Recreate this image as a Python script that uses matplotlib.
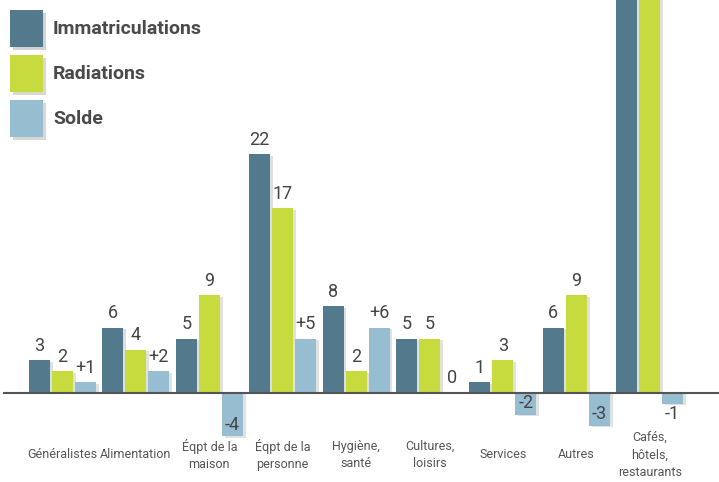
import numpy as np
import matplotlib.pyplot as plt
import matplotlib.patheffects as pe
from matplotlib.patches import Rectangle

# Données
categories = ['Généralistes', 'Alimentation', 'Éqpt de la\nmaison', 'Éqpt de la\npersonne',
              'Hygiène,\nsanté', 'Cultures,\nloisirs', 'Services', 'Autres',
              'Cafés,\nhôtels,\nrestaurants']
immatriculations = [3, 6, 5, 22, 8, 5, 1, 6, 44]
radiations = [2, 4, 9, 17, 2, 5, 3, 9, 45]
solde = [1, 2, -4, 5, 6, 0, -2, -3, -1]

series_names = ['Immatriculations', 'Radiations', 'Solde']
colors = ['#537a8c', '#c8db3e', '#97bdd1']

plt.rcParams['font.family'] = ['Roboto', 'DejaVu Sans']

fig = plt.figure(figsize=(7.19, 4.82), dpi=100)
ax = fig.add_axes([0, 0, 1, 1])
ax.set_xlim(-0.851, 8.944)
ax.set_ylim(-8.2, 36.2)
ax.axis('off')

x = np.arange(len(categories))
w = 0.286
step = 0.313
shadow = [pe.SimplePatchShadow(offset=(2, -1), alpha=0.15), pe.Normal()]

for k, (vals, col) in enumerate(zip([immatriculations, radiations, solde], colors)):
    xs = x + (k - 1) * step
    bars = ax.bar(xs, vals, width=w, color=col, zorder=2)
    for b in bars:
        b.set_path_effects(shadow)
    for xi, v in zip(xs, vals):
        if v > ax.get_ylim()[1]:
            continue
        txt = f'+{v}' if (k == 2 and v > 0) else str(v)
        if v >= 0:
            ax.annotate(txt, (xi, v), xytext=(0, 4), textcoords='offset points',
                        ha='center', va='bottom', fontsize=13, color='#444444')
        elif v <= -2:
            ax.annotate(txt, (xi, v), xytext=(0, 2), textcoords='offset points',
                        ha='center', va='bottom', fontsize=13, color='#444444', zorder=3)
        else:
            ax.annotate(txt, (xi, v), xytext=(0, -1), textcoords='offset points',
                        ha='center', va='top', fontsize=13, color='#444444')

ax.axhline(0, xmin=0.005, xmax=1, color='#555555', linewidth=1.5, zorder=3)

for xi, c in zip(x, categories):
    ax.text(xi, -5.7, c, ha='center', va='center', fontsize=9, color='#555555',
            linespacing=1.45)

# Légende
for i, (name, col) in enumerate(zip(series_names, colors)):
    y0 = 482 - 47 - i * 45
    r = Rectangle((10 / 719, y0 / 482), 33 / 719, 37 / 482, transform=fig.transFigure,
                  facecolor=col, edgecolor='none')
    r.set_path_effects([pe.SimplePatchShadow(offset=(2, -2), alpha=0.2), pe.Normal()])
    fig.patches.append(r)
    fig.text(53 / 719, (y0 + 18) / 482, name, ha='left', va='center', fontsize=14,
             fontweight='bold', color='#4a4a4a')

fig.savefig('out.png', dpi=100)
